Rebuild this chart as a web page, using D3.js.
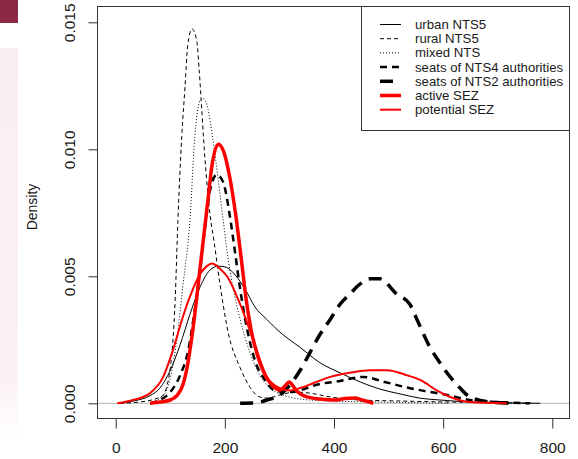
<!DOCTYPE html>
<html>
<head>
<meta charset="utf-8">
<script src="https://cdn.jsdelivr.net/npm/d3@7"></script>
<style>
  body { margin: 0; background: #fff; }
  svg { display: block; font-family: "Liberation Sans", Arial, sans-serif; }
</style>
</head>
<body>
<script>
// density estimates (x = value, y = density)
var urbanX = [10, 35, 63, 81, 100, 118, 136, 155, 173, 188, 202, 219, 237, 255, 277, 301, 338, 374, 411, 448, 484, 521, 558, 594, 649, 704, 778];
var urbanY = [0, 0.0001, 0.0003, 0.0006, 0.0013, 0.0023, 0.0035, 0.0046, 0.00525, 0.0054, 0.00536, 0.00505, 0.0045, 0.0038, 0.0033, 0.0028, 0.0022, 0.0016, 0.0012, 0.00084, 0.00056, 0.00037, 0.0002, 0.00013, 0.00005, 0.00002, 0];

var ruralX = [8, 44, 72, 86, 100, 109, 114, 121, 127, 132, 140, 149, 153, 164, 173, 180, 191, 206, 228, 246, 264, 279, 301, 329, 356, 393, 448, 521, 612, 704, 760];
var ruralY = [0, 0.00005, 0.00017, 0.0003, 0.0014, 0.0041, 0.0072, 0.0105, 0.01245, 0.0141, 0.01474, 0.0142, 0.0131, 0.0095, 0.0074, 0.0064, 0.0047, 0.0028, 0.0014, 0.00063, 0.00025, 0.0002, 0.00033, 0.00044, 0.0004, 0.00025, 0.00013, 0.00009, 0.00005, 0.00002, 0];

var mixedX = [63, 81, 93, 112, 123, 136, 145, 154, 160, 169, 178, 197, 204, 228, 246, 264, 283, 310, 338, 393, 484, 612];
var mixedY = [0, 0.0002, 0.0005, 0.0025, 0.0046, 0.0072, 0.0105, 0.0119, 0.0120, 0.0116, 0.0104, 0.0072, 0.006, 0.0033, 0.002, 0.0011, 0.0006, 0.0003, 0.00017, 0.00009, 0.00005, 0];

var nts4X = [63, 81, 100, 118, 133, 145, 155, 164, 173, 185, 197, 209, 219, 228, 241, 255, 274, 292, 319, 374, 411, 453, 493, 530, 567, 607, 649, 699, 759];
var nts4Y = [0, 0.00013, 0.00044, 0.0011, 0.0021, 0.0037, 0.0053, 0.0070, 0.0084, 0.0090, 0.0087, 0.0074, 0.0059, 0.0045, 0.0029, 0.0017, 0.0009, 0.0005, 0.00044, 0.00076, 0.00088, 0.00104, 0.00084, 0.00064, 0.00048, 0.00033, 0.00013, 0.00005, 0];

var nts2X = [228, 255, 277, 301, 314, 338, 351, 374, 393, 411, 429, 448, 466, 484, 515, 539, 552, 576, 594, 607, 631, 649, 686, 722];
var nts2Y = [0, 0.00001, 0.00013, 0.00033, 0.0006, 0.0013, 0.0018, 0.0027, 0.0033, 0.0039, 0.0043, 0.0047, 0.0049, 0.0049, 0.0043, 0.0039, 0.0033, 0.0022, 0.0016, 0.0012, 0.0006, 0.00025, 0.00005, 0];

var activeX = [63, 81, 100, 112, 123, 131, 142, 155, 162, 169, 176, 188, 198, 209, 220, 230, 239, 248, 261, 274, 288, 301, 310, 318, 325, 332, 351, 374, 402, 420, 439, 451, 462, 472];
var activeY = [0, 0.00005, 0.00013, 0.0003, 0.00072, 0.00143, 0.003, 0.0054, 0.0067, 0.0080, 0.0093, 0.0102, 0.0099, 0.0089, 0.0074, 0.0057, 0.0041, 0.0029, 0.0018, 0.0011, 0.00068, 0.00052, 0.00068, 0.00084, 0.00068, 0.00048, 0.00025, 0.00017, 0.00013, 0.00019, 0.00021, 0.00013, 0.00007, 0];

var potentialX = [3, 32, 63, 87, 105, 123, 136, 155, 167, 176, 191, 204, 228, 252, 277, 301, 319, 338, 362, 393, 429, 466, 497, 534, 558, 589, 613, 649, 717];
var potentialY = [0, 0.00013, 0.0004, 0.00104, 0.0021, 0.0034, 0.0042, 0.0051, 0.0054, 0.0055, 0.0053, 0.005, 0.0039, 0.0025, 0.00104, 0.0006, 0.0005, 0.0006, 0.00079, 0.00104, 0.0012, 0.0013, 0.0013, 0.0011, 0.00092, 0.0005, 0.00025, 0.00005, 0];

var xTicks = [0, 200, 400, 600, 800];
var yTicks = [0, 0.005, 0.010, 0.015];
var legendLabels = ["urban NTS5", "rural NTS5", "mixed NTS", "seats of NTS4 authorities",
                    "seats of NTS2 authorities", "active SEZ", "potential SEZ"];

var width = 578, height = 459;
var box = {left: 97.5, top: 6.5, right: 569.5, bottom: 418.5};

var x = d3.scaleLinear().domain([0, 800]).range([115.7, 552.3]);
var y = d3.scaleLinear().domain([0, 0.015]).range([403.3, 22.3]);

var series = [
  {xs: urbanX, ys: urbanY, color: "#000", w: 1, dash: null},
  {xs: ruralX, ys: ruralY, color: "#000", w: 1, dash: "4,3"},
  {xs: mixedX, ys: mixedY, color: "#000", w: 1, dash: "1,2"},
  {xs: nts4X, ys: nts4Y, color: "#000", w: 2.5, dash: "7,5"},
  {xs: nts2X, ys: nts2Y, color: "#000", w: 3.5, dash: "13,8"},
  {xs: activeX, ys: activeY, color: "#ff0000", w: 3.5, dash: null},
  {xs: potentialX, ys: potentialY, color: "#ff0000", w: 2, dash: null}
];

var svg = d3.select("body").append("svg")
    .attr("width", width)
    .attr("height", height);

// page bits at the left edge
var grad = svg.append("defs").append("linearGradient")
    .attr("id", "fade").attr("x1", 0).attr("y1", 0).attr("x2", 0).attr("y2", 1);
grad.append("stop").attr("offset", "0%").attr("stop-color", "#fbeef2");
grad.append("stop").attr("offset", "85%").attr("stop-color", "#fcf2f4");
grad.append("stop").attr("offset", "100%").attr("stop-color", "#ffffff");
svg.append("rect").attr("x", 0).attr("y", 0).attr("width", 18).attr("height", 23).attr("fill", "#8c2a45");
svg.append("rect").attr("x", 0).attr("y", 48).attr("width", 18).attr("height", 395).attr("fill", "url(#fade)");

// zero line
svg.append("line")
    .attr("x1", box.left).attr("x2", box.right)
    .attr("y1", y(0)).attr("y2", y(0))
    .attr("stroke", "#b5b5b5").attr("stroke-width", 1);

var line = d3.line()
    .x(function(d) { return x(d[0]); })
    .y(function(d) { return y(d[1]); })
    .curve(d3.curveMonotoneX);

series.forEach(function(s) {
  var pts = s.xs.map(function(v, i) { return [v, s.ys[i]]; });
  svg.append("path")
      .datum(pts)
      .attr("d", line)
      .attr("fill", "none")
      .attr("stroke", s.color)
      .attr("stroke-width", s.w)
      .attr("stroke-dasharray", s.dash)
      .attr("stroke-linejoin", "round");
});

// box
svg.append("rect")
    .attr("x", box.left).attr("y", box.top)
    .attr("width", box.right - box.left).attr("height", box.bottom - box.top)
    .attr("fill", "none").attr("stroke", "#333");

// axes
var xAxis = svg.append("g")
    .attr("transform", "translate(0," + box.bottom + ")")
    .call(d3.axisBottom(x).tickValues(xTicks).tickSize(10).tickSizeOuter(0));
xAxis.select(".domain").remove();
xAxis.selectAll("line").attr("stroke", "#333");
xAxis.selectAll("text")
    .attr("y", 34.5).attr("dy", null)
    .style("font-size", "15.5px").style("fill", "#1a1a1a");

var yAxis = svg.append("g")
    .attr("transform", "translate(" + box.left + ",0)")
    .call(d3.axisLeft(y).tickValues(yTicks).tickSize(9).tickSizeOuter(0).tickFormat(d3.format(".3f")));
yAxis.select(".domain").remove();
yAxis.selectAll("line").attr("stroke", "#333");
yAxis.selectAll("text")
    .attr("transform", "rotate(-90)")
    .attr("x", 0).attr("y", -22.5).attr("dy", null)
    .style("text-anchor", "middle")
    .style("font-size", "15.5px").style("fill", "#1a1a1a");

svg.append("text")
    .attr("transform", "translate(36.5,207) rotate(-90)")
    .attr("text-anchor", "middle")
    .style("font-size", "14px").style("fill", "#1a1a1a")
    .text("Density");

// legend
var lg = svg.append("g");
lg.append("rect")
    .attr("x", 361.5).attr("y", box.top)
    .attr("width", box.right - 361.5).attr("height", 124)
    .attr("fill", "#fff").attr("stroke", "#333");
legendLabels.forEach(function(lab, i) {
  var s = series[i];
  var ly = 24.5 + i * 14.2;
  lg.append("line")
      .attr("x1", 380).attr("x2", 401)
      .attr("y1", ly).attr("y2", ly)
      .attr("stroke", s.color)
      .attr("stroke-width", s.w)
      .attr("stroke-dasharray", s.dash);
  lg.append("text")
      .attr("x", 415).attr("y", ly + 4.5)
      .style("font-size", "13.2px").style("fill", "#1a1a1a")
      .text(lab);
});
</script>
</body>
</html>
